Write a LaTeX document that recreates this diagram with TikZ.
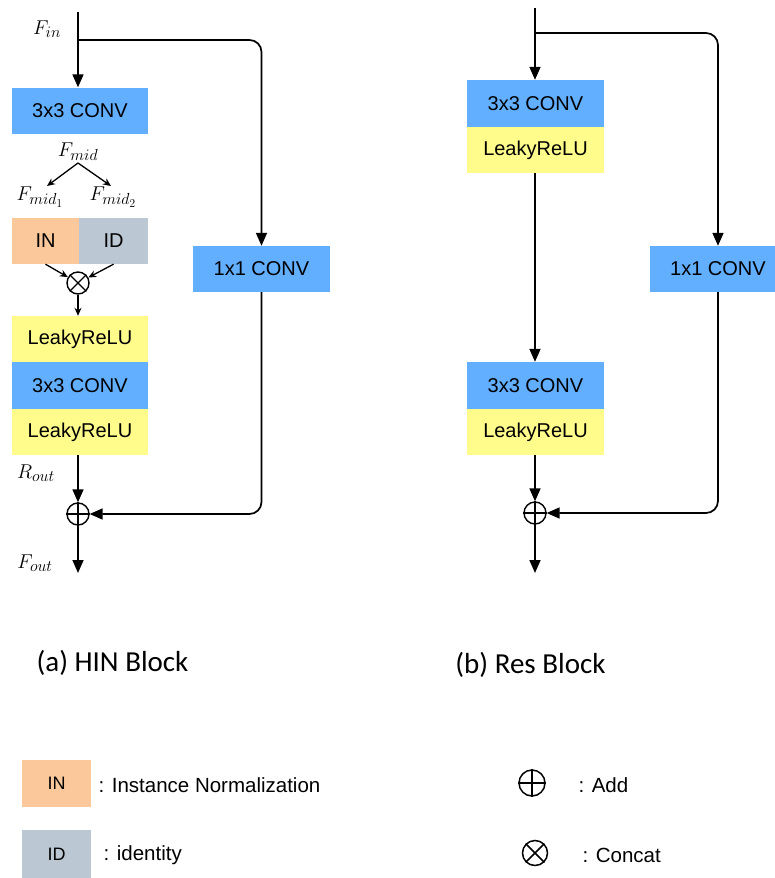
\RequirePackage{fix-cm}
\documentclass[tikz,border=0pt]{standalone}
\usepackage{fontspec}
\setmainfont{Liberation Sans}
\newfontfamily\capfont{Carlito}
\DeclareMathSizes{20}{20}{16}{12}
\usetikzlibrary{arrows.meta,calc}
\definecolor{cblue}{RGB}{99,175,255}
\definecolor{cyellow}{RGB}{255,252,140}
\definecolor{cpeach}{RGB}{250,200,155}
\definecolor{cgrey}{RGB}{187,200,212}
\begin{document}
\begin{tikzpicture}[x=1pt,y=-1pt,
  box/.style={inner sep=0pt,minimum width=136pt,minimum height=46pt,font=\fontsize{20}{22}\selectfont},
  bluebox/.style={box,fill=cblue},
  yelbox/.style={box,fill=cyellow},
  op/.style={circle,draw,line width=1.4pt,minimum size=22pt,inner sep=0pt},
  ln/.style={line width=1.7pt},
  arr/.style={ln,-{Triangle[length=13pt,width=11pt]}},
  sarr/.style={line width=1.3pt,-{Stealth[length=8pt,width=7pt]}},
  lbl/.style={font=\fontsize{20}{24}\selectfont},
  legtext/.style={anchor=west,font=\fontsize{20.5}{24}\selectfont},
  captext/.style={font=\capfont\fontsize{29}{34}\selectfont}]
\useasboundingbox (0,0) rectangle (774,878);

% ---------- (a) HIN block ----------
\node[bluebox] (conv1) at (80,110.5) {3x3 CONV};
\node[box,minimum width=67pt,fill=cpeach] (IN) at (45.5,241) {IN};
\node[box,minimum width=69pt,fill=cgrey] (ID) at (113.5,241) {ID};
\node[op] (cat) at (78,283) {};
\draw[line width=1.4pt] (cat.north west) -- (cat.south east) (cat.north east) -- (cat.south west);
\node[yelbox] (lr1) at (80,339) {LeakyReLU};
\node[bluebox,minimum height=47pt] (conv2) at (80,385.5) {3x3 CONV};
\node[yelbox] (lr2) at (80,432) {LeakyReLU};
\node[op] (add) at (78,514) {};
\draw[line width=1.4pt] (add.north) -- (add.south) (add.west) -- (add.east);
\node[bluebox,minimum width=137pt] (c1) at (261.5,269) {1x1 CONV};

\coordinate (fin) at (78,12);
\coordinate (br) at (78,40);
\coordinate (mid) at (78,163);
\coordinate (m1) at (47,186);
\coordinate (m2) at (111,186);
\coordinate (fout) at (78,573);

\draw[arr] (fin) -- (fin |- conv1.north);
\draw[arr,rounded corners=12pt] (br) -| (c1.north);
\draw[sarr] (mid) -- (m1);
\draw[sarr] (mid) -- (m2);
\draw[sarr] (IN.south) -- (cat);
\draw[sarr] (ID.south) -- (cat);
\draw[sarr] (cat) -- (cat |- lr1.north);
\draw[arr] (add |- lr2.south) -- (add);
\draw[arr,rounded corners=12pt] (c1.south) |- (add);
\draw[arr] (add) -- (fout);

\node[lbl] (lin) at (47,29) {$F_{in}$};
\node[lbl] (lmid) at (78,152) {$F_{mid}$};
\node[lbl] (lm1) at (40,197) {$F_{mid_1}$};
\node[lbl] (lm2) at (113,197) {$F_{mid_2}$};
\node[lbl] (lrout) at (36,473) {$R_{out}$};
\node[lbl] (lfout) at (35,563) {$F_{out}$};

% ---------- (b) Res block ----------
\node[bluebox,minimum width=137pt,minimum height=47pt] (rconv1) at (535.5,103.5) {3x3 CONV};
\node[yelbox,minimum width=137pt] (rlr1) at (535.5,150) {LeakyReLU};
\node[bluebox,minimum width=137pt,minimum height=47pt] (rconv2) at (535.5,385.5) {3x3 CONV};
\node[yelbox,minimum width=137pt] (rlr2) at (535.5,432) {LeakyReLU};
\node[op] (radd) at (535,513) {};
\draw[line width=1.4pt] (radd.north) -- (radd.south) (radd.west) -- (radd.east);
\node[bluebox] (rc1) at (718,269) {1x1 CONV};

\coordinate (rin) at (535,8);
\coordinate (rbr) at (535,33);
\coordinate (rout) at (535,573);

\draw[arr] (rin) -- (rin |- rconv1.north);
\draw[arr,rounded corners=12pt] (rbr) -| (rc1.north);
\draw[arr] (radd |- rlr1.south) -- (radd |- rconv2.north);
\draw[arr] (radd |- rlr2.south) -- (radd);
\draw[arr,rounded corners=12pt] (rc1.south) |- (radd);
\draw[arr] (radd) -- (rout);

% ---------- captions ----------
\node[captext] (capa) at (112.5,663) {(a) HIN Block};
\node[captext] (capb) at (530.5,665) {(b) Res Block};

% ---------- legend ----------
\node[box,minimum width=69pt,minimum height=47pt,fill=cpeach,font=\fontsize{18}{20}\selectfont] (lgIN) at (56.5,783.5) {IN};
\node[legtext] (tIN) at (95,785) {: Instance Normalization};
\node[box,minimum width=69pt,minimum height=48pt,fill=cgrey,font=\fontsize{18}{20}\selectfont] (lgID) at (56.5,854) {ID};
\node[legtext] (tID) at (100,855) {: identity};

\node[op,minimum size=26pt,line width=1.5pt] (lgadd) at (532,783) {};
\draw[line width=1.5pt] (lgadd.north) -- (lgadd.south) (lgadd.west) -- (lgadd.east);
\node[legtext] (tadd) at (575,785) {: Add};
\node[op,minimum size=25pt,line width=1.5pt] (lgcat) at (535,853) {};
\draw[line width=1.5pt] (lgcat.north west) -- (lgcat.south east) (lgcat.north east) -- (lgcat.south west);
\node[legtext] (tcat) at (579,855) {: Concat};
\end{tikzpicture}
\end{document}
